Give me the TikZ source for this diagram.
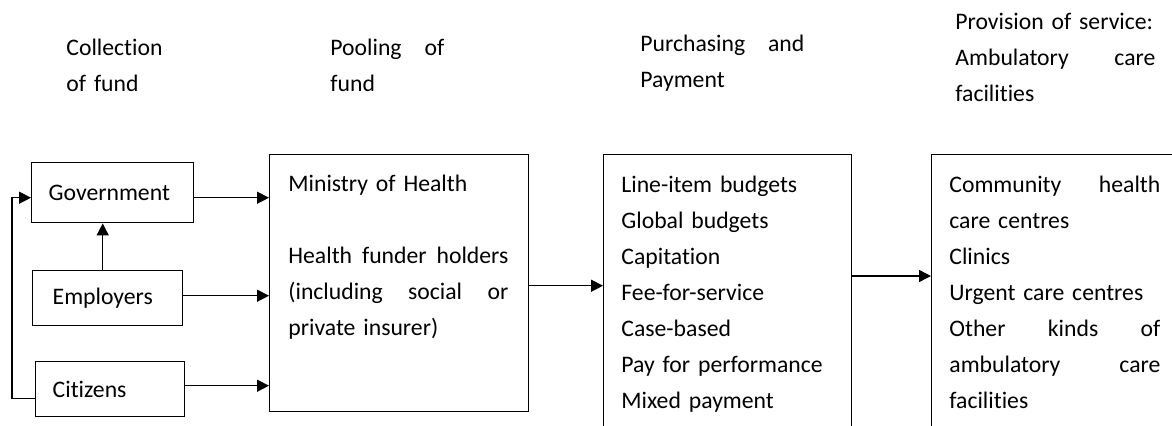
\documentclass[tikz,border=0pt]{standalone}
\usepackage{fontspec}
\setmainfont{Carlito}[Ligatures={NoCommon,NoRare}]
\usetikzlibrary{positioning, calc, arrows.meta}

\begin{document}
\begin{tikzpicture}[x=0.5pt, y=-0.5pt, >={Triangle[length=6pt,width=6pt]},
  font=\fontsize{11.85pt}{18pt}\selectfont,
  srcbox/.style={rectangle, draw, line width=0.7pt, anchor=north west,
    inner xsep=8.5pt, inner ysep=0pt, align=left, minimum height=#1},
  bigbox/.style={rectangle, draw, line width=0.7pt, anchor=north west, inner sep=0pt},
  listtext/.style={anchor=base west, inner sep=0pt, align=left, text width=#1},
  flow/.style={->, line width=0.7pt}]
  \useasboundingbox (0,0) rectangle (1172,425);
  % Stage headings
  \node[listtext=60pt] (hcollect) at (66,55) {Collection\\of fund};
  \node[listtext=57pt] (hpool) at (330,55) {Pooling\hfill of\\fund};
  \node[listtext=82pt] (hpurch) at (640,51) {Purchasing\hfill and\\Payment};
  \node[listtext=100pt] (hprov) at (955,29) {Provision of service:\\Ambulatory\hfill care\\facilities};
  % Sources of funds
  \node[srcbox=30pt, text width=64pt] (gov) at (31,162) {Government};
  \node[srcbox=27.5pt, inner xsep=10pt, text width=55pt] (emp) at (32,270) {Employers};
  \node[srcbox=27.5pt, text width=57.5pt] (cit) at (35,361) {Citizens};
  % Stage boxes
  \node[bigbox, minimum width=129.5pt, minimum height=128.5pt] (pool) at (269,154) {};
  \node[bigbox, minimum width=124pt, minimum height=150pt] (purch) at (603,154) {};
  \node[bigbox, minimum width=121.5pt, minimum height=150pt] (prov) at (931,154) {};
  % Box contents
  \node[listtext=110pt] (pooltext) at (288,191) {Ministry of Health\\[18pt]
    Health\hfill funder\hfill holders\\(including\hfill social\hfill or\\private insurer)};
  \node[listtext=115pt] (purchtext) at (621,192) {Line-item budgets\\Global budgets\\
    Capitation\\Fee-for-service\\Case-based\\Pay for performance\\Mixed payment};
  \node[listtext=105.5pt] (provtext) at (949,192) {Community\hfill health\\care centres\\
    Clinics\\Urgent care centres\\Other\hfill kinds\hfill of\\ambulatory\hfill care\\facilities};
  % Arrows
  \draw[flow] ([yshift=-2.5pt]gov.east) -- ([yshift=-2.5pt]gov.east -| pool.west);
  \draw[flow] ([yshift=1.25pt]emp.east) -- ([yshift=1.25pt]emp.east -| pool.west);
  \draw[flow] ([yshift=1.75pt]cit.east) -- ([yshift=1.75pt]cit.east -| pool.west);
  \draw[flow] ([xshift=-2.5pt]emp.north) -- ([xshift=-2.5pt]emp.north |- gov.south);
  \draw[flow] ([yshift=-4.75pt]cit.west) -- ++(-23,0) |- ([yshift=-2.5pt]gov.west);
  \draw[flow] ([yshift=-1.25pt]pool.east) -- ([yshift=-1.25pt]pool.east -| purch.west);
  \draw[flow] ([yshift=-61pt]purch.north east) -- ([yshift=-61pt]purch.north east -| prov.west);
\end{tikzpicture}
\end{document}
